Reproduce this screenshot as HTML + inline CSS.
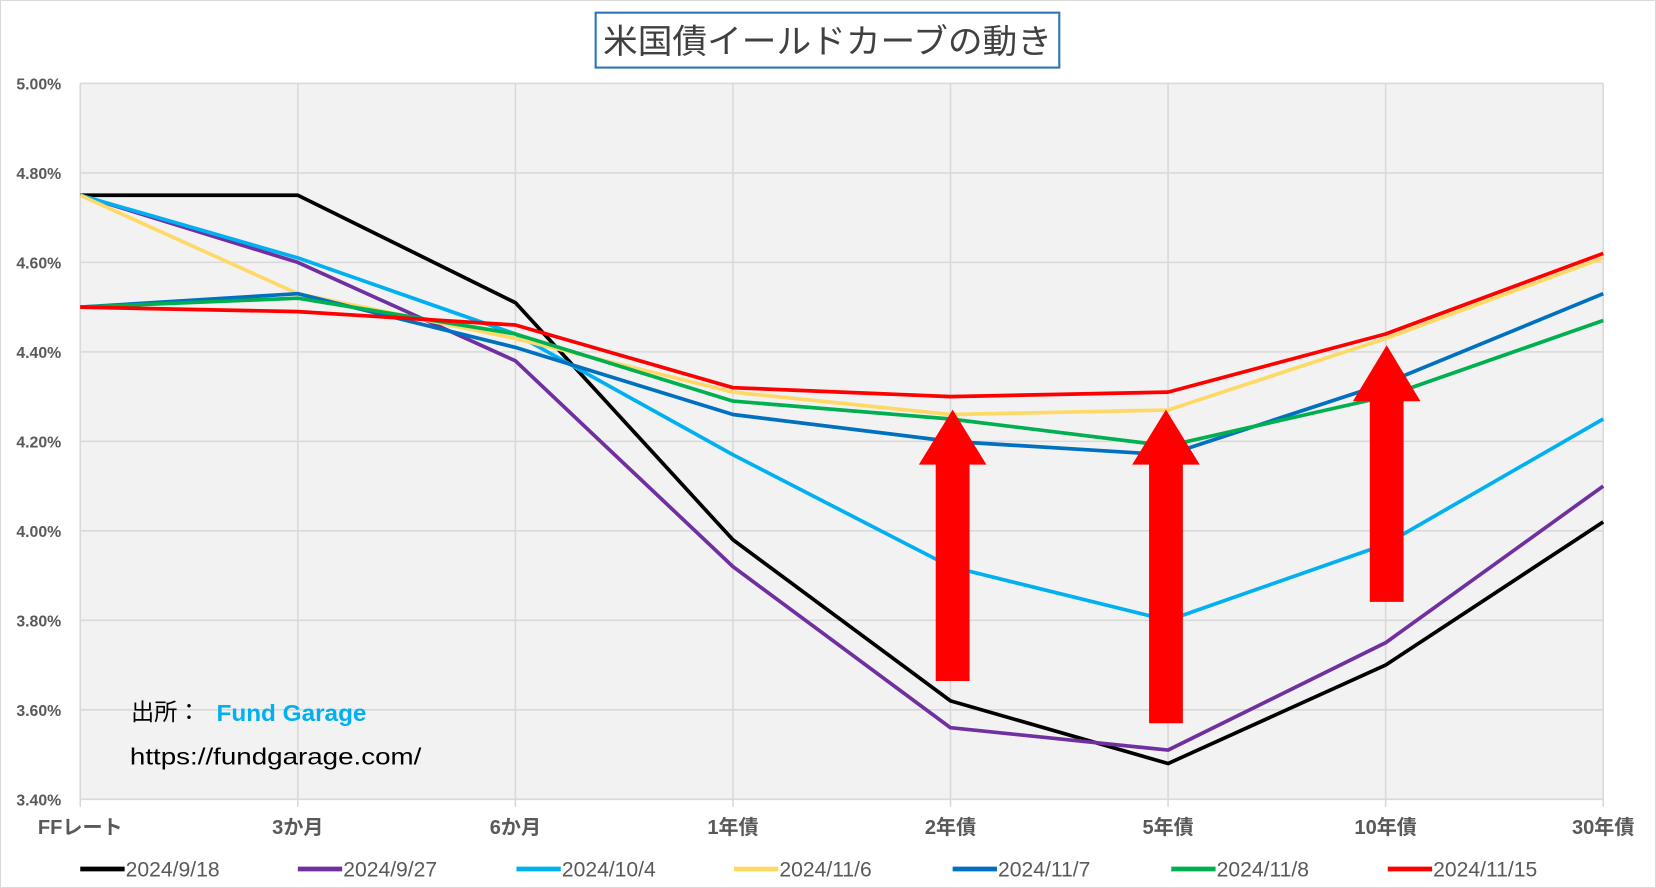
<!DOCTYPE html>
<html><head><meta charset="utf-8"><style>
html,body{margin:0;padding:0;background:#fff}
svg{display:block}
text{font-family:"Liberation Sans","Noto Sans CJK JP",sans-serif}
</style></head><body>
<svg id="s" width="1656" height="888" viewBox="0 0 1568 841" preserveAspectRatio="none" xmlns="http://www.w3.org/2000/svg">
<rect x="0.5" y="0.5" width="1567" height="840" fill="#fff" stroke="#d9d9d9"/>
<rect x="76" y="79" width="1442" height="678" fill="#f2f2f2"/>
<g id="grid" stroke="#d9d9d9" stroke-width="1.5"></g>
<g id="ylab" font-size="15" fill="#595959" font-weight="bold" text-anchor="end"></g>
<g id="xlab" font-size="19" fill="#595959" font-weight="bold" text-anchor="middle"></g>
<g id="lines" fill="none" stroke-width="3.5" stroke-linejoin="round"></g>
<g fill="#ff0000">
<polygon points="886,645 918,645 918,440 934,440 902,388 870,440 886,440"/>
<polygon points="1088,685 1120,685 1120,440 1136,440 1104,388 1072,440 1088,440"/>
<polygon points="1297,570 1329,570 1329,380 1345,380 1313,327 1281,380 1297,380"/>
</g>
<text x="124" y="682" font-size="22" fill="#000">出所：</text>
<text x="205" y="683" font-size="22" fill="#00b0f0" font-weight="bold" textLength="142" lengthAdjust="spacingAndGlyphs">Fund Garage</text>
<text x="123" y="724" font-size="22" fill="#000" textLength="276" lengthAdjust="spacingAndGlyphs">https://fundgarage.com/</text>
<rect x="564" y="12" width="439" height="52" fill="#fff" stroke="#2e75b6" stroke-width="2"/>
<text x="571" y="50" font-size="32" fill="#404040" textLength="425" lengthAdjust="spacingAndGlyphs">米国債イールドカーブの動き</text>
<g id="leg" font-size="20" fill="#595959"></g>
</svg>
<script>
var NS="http://www.w3.org/2000/svg";
function el(p,t,a,txt){var e=document.createElementNS(NS,t);for(var k in a)e.setAttribute(k,a[k]);if(txt)e.textContent=txt;document.getElementById(p).appendChild(e);}
function Y(v){return 79+(5.0-v)/1.6*678;}
function X(i){return 76+206*i;}
for(var j=0;j<=8;j++){var v=5.0-0.2*j,y=Y(v);el("grid","line",{x1:76,x2:1518,y1:y,y2:y});el("ylab","text",{x:58,y:y+6},v.toFixed(2)+"%");}
var cats=["FFレート","3か月","6か月","1年債","2年債","5年債","10年債","30年債"];
for(var i=0;i<8;i++){el("grid","line",{x1:X(i),x2:X(i),y1:79,y2:764});el("xlab","text",{x:X(i),y:790},cats[i]);}
var S=[
["2024/9/18","#000000",[4.75,4.75,4.51,3.98,3.62,3.48,3.70,4.02]],
["2024/9/27","#7030a0",[4.75,4.60,4.38,3.92,3.56,3.51,3.75,4.10]],
["2024/10/4","#00b0f0",[4.75,4.61,4.44,4.17,3.92,3.80,3.97,4.25]],
["2024/11/6","#ffd966",[4.75,4.53,4.43,4.31,4.26,4.27,4.43,4.61]],
["2024/11/7","#0070c0",[4.50,4.53,4.41,4.26,4.20,4.17,4.33,4.53]],
["2024/11/8","#00b050",[4.50,4.52,4.44,4.29,4.25,4.19,4.30,4.47]],
["2024/11/15","#ff0000",[4.50,4.49,4.46,4.32,4.30,4.31,4.44,4.62]]];
var lx=[76,282,489,695,902,1109,1314];
S.forEach(function(s,k){var p=s[2].map(function(v,i){return X(i)+","+Y(v)}).join(" ");
el("lines","polyline",{points:p,stroke:s[1]});
el("leg","line",{x1:lx[k],x2:lx[k]+42,y1:823,y2:823,stroke:s[1],"stroke-width":4.5});
el("leg","text",{x:lx[k]+43,y:830},s[0]);});
</script>
</body></html>
